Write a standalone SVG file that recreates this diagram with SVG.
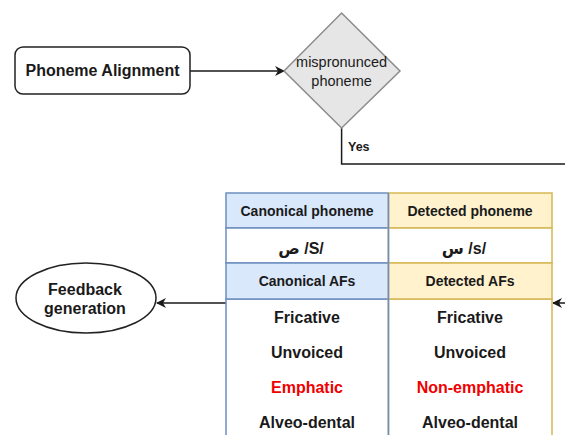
<svg xmlns="http://www.w3.org/2000/svg" width="565" height="435" viewBox="0 0 565 435">
<style>
text{font-family:"Liberation Sans","DejaVu Sans",Arial,sans-serif;text-anchor:middle;fill:#1a1a1a}
.b{font-weight:bold}
.h{font-size:14px;font-weight:bold}
.v{font-size:16px;font-weight:bold}
.red{fill:#f00000}
.conn{fill:none;stroke:#1a1a1a;stroke-width:1.5}
.blue{fill:#dae8fc;stroke:#6c8ebf;stroke-width:1.5}
.gold{fill:#fff2cc;stroke:#d6b656;stroke-width:1.5}
.wb{fill:#fff;stroke:#6c8ebf;stroke-width:1.5}
.wg{fill:#fff;stroke:#d6b656;stroke-width:1.5}
</style>
<defs>
<marker id="ah" markerWidth="10" markerHeight="10" refX="9" refY="5" orient="auto" markerUnits="userSpaceOnUse">
<path d="M0,0 L10,5 L0,10 L3,5 Z" fill="#1a1a1a"/>
</marker>
</defs>
<rect width="565" height="435" fill="#fff"/>
<g id="connectors">
<line class="conn" x1="190" y1="71" x2="284" y2="71" marker-end="url(#ah)"/>
<polyline class="conn" points="341.6,128 341.6,164 566,164" stroke="#333"/>
<line class="conn" x1="226" y1="303" x2="157" y2="303" marker-end="url(#ah)"/>
<line class="conn" x1="566" y1="303" x2="553" y2="303" marker-end="url(#ah)"/>
<text x="348" y="151" class="b" style="font-size:12.5px;text-anchor:start">Yes</text>
</g>
<g id="phoneme-alignment">
<rect x="15" y="47" width="175" height="47" rx="8" fill="#fff" stroke="#222" stroke-width="1.5"/>
<text x="102.5" y="76" class="v">Phoneme Alignment</text>
</g>
<g id="mispronounced">
<polygon points="341.6,13 400,71 341.6,128 284,71" fill="#e6e6e6" stroke="#8c8c8c" stroke-width="1.5"/>
<text x="341.6" y="67" style="font-size:14.5px">mispronunced</text>
<text x="341.6" y="86" style="font-size:14.5px">phoneme</text>
</g>
<g id="feedback">
<ellipse cx="86" cy="298" rx="70" ry="35" fill="#fff" stroke="#222" stroke-width="1.5"/>
<text x="85" y="295" class="v">Feedback</text>
<text x="85" y="314" class="v">generation</text>
</g>
<g id="table">
<rect class="wb" x="226" y="299" width="162.5" height="145"/>
<rect class="wg" x="388.5" y="299" width="163.5" height="145"/>
<rect class="blue" x="226" y="193" width="162.5" height="35"/>
<rect class="gold" x="388.5" y="193" width="163.5" height="35"/>
<rect class="wb" x="226" y="228" width="162.5" height="35"/>
<rect class="wg" x="388.5" y="228" width="163.5" height="35"/>
<rect class="blue" x="226" y="263" width="162.5" height="36"/>
<rect class="gold" x="388.5" y="263" width="163.5" height="36"/>
<line x1="388.5" y1="193" x2="388.5" y2="440" stroke="#6c8ebf" stroke-width="1.5"/>
<text x="307" y="216" class="h">Canonical phoneme</text>
<text x="470" y="216" class="h">Detected phoneme</text>
<text x="301" y="254" class="v">ص /S/</text>
<text x="464" y="254" class="v">س /s/</text>
<text x="307" y="286" class="h">Canonical AFs</text>
<text x="470" y="286" class="h">Detected AFs</text>
<text x="307" y="322.5" class="v">Fricative</text>
<text x="470" y="322.5" class="v">Fricative</text>
<text x="307" y="357.5" class="v">Unvoiced</text>
<text x="470" y="357.5" class="v">Unvoiced</text>
<text x="307" y="392.5" class="v red">Emphatic</text>
<text x="470" y="392.5" class="v red">Non-emphatic</text>
<text x="307" y="427.5" class="v">Alveo-dental</text>
<text x="470" y="427.5" class="v">Alveo-dental</text>
</g>
</svg>
